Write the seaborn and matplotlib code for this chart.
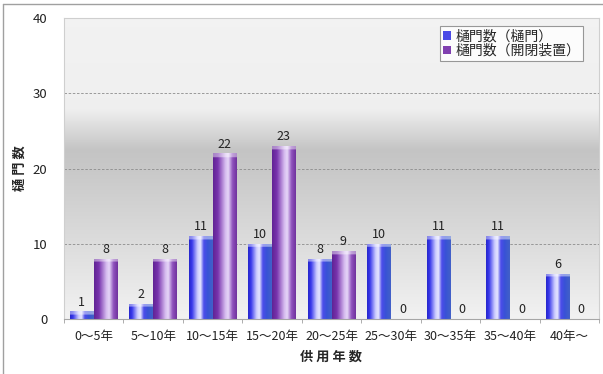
import numpy as np
import pandas as pd
import matplotlib
matplotlib.use("Agg")
import matplotlib.pyplot as plt
import seaborn as sns
from matplotlib.patches import Patch
from matplotlib.lines import Line2D

# ---- data -------------------------------------------------------------
categories = ["0～5年", "5～10年", "10～15年", "15～20年", "20～25年",
              "25～30年", "30～35年", "35～40年", "40年～"]
gate_counts = [1, 2, 11, 10, 8, 10, 11, 11, 6]          # 樋門数（樋門）
device_counts = [8, 8, 22, 23, 9, 0, 0, 0, 0]           # 樋門数（開閉装置）
series_names = ["樋門数（樋門）", "樋門数（開閉装置）"]
y_ticks = [0, 10, 20, 30, 40]
x_title = "供 用 年 数"
y_title = "樋 門 数"

# ---- style ------------------------------------------------------------
sns.set_theme(style="white")
plt.rcParams["font.family"] = ["Noto Sans CJK JP", "DejaVu Sans"]

df = pd.DataFrame({
    "供用年数": categories * 2,
    "樋門数": gate_counts + device_counts,
    "系列": [series_names[0]] * len(categories) + [series_names[1]] * len(categories),
})

W, H = 603, 374
fig = plt.figure(figsize=(W / 100, H / 100), dpi=100)
fig.patch.set_facecolor("white")
ax = fig.add_axes([64 / W, 55 / H, 535 / W, 301 / H])

base_colors = {series_names[0]: "#3a3ae0", series_names[1]: "#7a35aa"}
sns.barplot(data=df, x="供用年数", y="樋門数", hue="系列", palette=base_colors,
            width=0.8, gap=0, ax=ax, legend=False, zorder=2, saturation=1)

# ---- plot-area background: soft vertical grey band -----------------------
vals = np.linspace(40, 0, 400)
gray = np.interp(vals, [0, 10, 20, 22.5, 28, 40], [0.95, 0.865, 0.785, 0.77, 0.94, 0.95])
bg = np.repeat(gray[:, None, None], 3, axis=2)
ax.imshow(bg, extent=[-0.5, 8.5, 0, 40], aspect="auto", origin="upper",
          zorder=0.1, interpolation="bilinear")

for yv in y_ticks[1:-1]:
    ax.axhline(yv, color="#8c8c8c", lw=0.6, ls=(0, (3, 2)), zorder=0.5)

# ---- cylinder-like shading on each bar --------------------------------
blue_stops = ([0.0, 0.12, 0.36, 0.48, 0.62, 0.78, 1.0],
              [(0.15, 0.15, 0.80), (0.22, 0.22, 0.92), (0.80, 0.80, 1.0),
               (0.90, 0.90, 1.0), (0.30, 0.30, 0.92), (0.22, 0.32, 0.84),
               (0.26, 0.38, 0.78)])
purple_stops = ([0.0, 0.20, 0.52, 0.64, 0.82, 1.0],
                [(0.38, 0.14, 0.58), (0.47, 0.20, 0.68), (0.84, 0.74, 0.94),
                 (0.90, 0.84, 0.97), (0.56, 0.32, 0.74), (0.44, 0.20, 0.62)])


def bar_image(stops, height, rows=120, cols=80):
    xs = np.linspace(0, 1, cols)
    pos, cols_rgb = stops
    rgb = np.stack([np.interp(xs, pos, [c[i] for c in cols_rgb]) for i in range(3)], axis=1)
    img = np.repeat(rgb[None, :, :], rows, axis=0)
    ys = np.linspace(height, 0, rows)
    cap = (height - ys) < 0.45
    img[cap] = img[cap] * 0.55 + 0.45
    return img


n = len(categories)
for k, patch in enumerate(ax.patches):
    h = patch.get_height()
    stops = blue_stops if k < n else purple_stops
    if h > 0:
        x0 = patch.get_x()
        w = patch.get_width()
        im = ax.imshow(bar_image(stops, h), extent=[x0, x0 + w, 0, h],
                       aspect="auto", origin="upper", zorder=2.1,
                       interpolation="bilinear")
        im.set_clip_path(patch)
    patch.set_facecolor("none")
    patch.set_edgecolor("none")

# ---- value labels ------------------------------------------------------
for cont in ax.containers:
    ax.bar_label(cont, fmt="%d", padding=2, fontsize=9, color="#222222")

# ---- axes --------------------------------------------------------------
ax.set_xlim(-0.5, 8.5)
ax.set_ylim(0, 40)
ax.set_yticks(y_ticks)
ax.set_xticks(range(n))
ax.set_xticklabels(categories)
ax.set_xticks(np.arange(-0.5, n, 1.0), minor=True)
ax.tick_params(axis="x", which="major", length=0, pad=8, labelsize=9, labelcolor="#222222")
ax.tick_params(axis="x", which="minor", length=3, width=0.6, color="#a0a0a0",
               direction="out", bottom=True)
ax.tick_params(axis="y", length=0, pad=12, labelsize=9.5, labelcolor="#222222")

for side in ("left", "top", "right"):
    ax.spines[side].set_color("#cfcfcf")
    ax.spines[side].set_linewidth(0.8)
ax.spines["bottom"].set_color("#a6a6a6")
ax.spines["bottom"].set_linewidth(0.8)

ax.set_xlabel(x_title, fontsize=9.5, fontweight="bold", va="center")
ax.xaxis.set_label_coords(0.5, -(357 - 319) / 301)
ax.set_ylabel(y_title, fontsize=9.5, fontweight="bold", va="center")
ax.yaxis.set_label_coords(-(64 - 20) / 535, 0.5)

# ---- legend ------------------------------------------------------------
handles = [Patch(facecolor="#4a4ae6", edgecolor="none", label=series_names[0]),
           Patch(facecolor="#8040b0", edgecolor="none", label=series_names[1])]
leg = ax.legend(handles=handles, loc="upper right", bbox_to_anchor=(0.97, 0.972),
                borderaxespad=0, fontsize=10, frameon=True, fancybox=False,
                handlelength=0.6, handleheight=0.6, handletextpad=0.3,
                borderpad=0.2, labelspacing=0.05)
leg.get_frame().set_edgecolor("#808080")
leg.get_frame().set_linewidth(0.8)
leg.get_frame().set_facecolor("white")
leg.set_zorder(5)

# ---- outer chart frame (top and left edges) ------------------------------
fig.add_artist(Line2D([2.5 / W, 2.5 / W], [0, 1 - 4 / H], color="#a0a0a0", lw=1.0))
fig.add_artist(Line2D([2.5 / W, 1], [1 - 4 / H, 1 - 4 / H], color="#a0a0a0", lw=1.0))

fig.savefig("out.png", dpi=100)
